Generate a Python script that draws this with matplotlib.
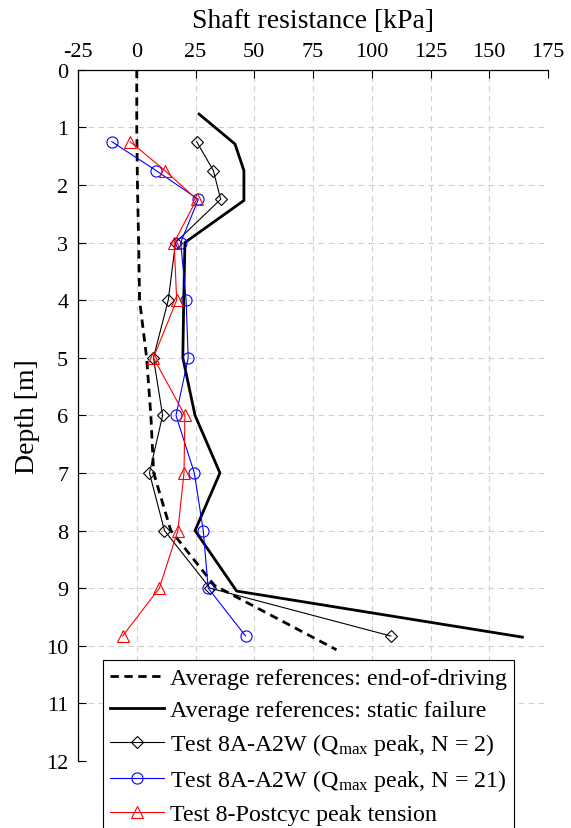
import matplotlib
matplotlib.use('Agg')
import matplotlib.pyplot as plt

plt.rcParams['font.family'] = ['Liberation Serif', 'DejaVu Serif']
plt.rcParams['mathtext.fontset'] = 'custom'
plt.rcParams['mathtext.rm'] = 'Liberation Serif'
plt.rcParams['mathtext.it'] = 'Liberation Serif:italic'
plt.rcParams['axes.unicode_minus'] = False

# Average references: end-of-driving
depth_eod = [0, 1.0, 2.0, 3.0, 4.0, 5.0, 6.0, 7.0, 8.0, 8.95, 10.07]
tau_eod = [0, 0, 0.3, 0.8, 1.2, 4.2, 6.0, 7.2, 14.5, 33.0, 85.0]

# Average references: static failure
depth_sf = [0.77, 1.29, 1.75, 2.27, 3.0, 4.0, 5.0, 6.0, 7.0, 8.0, 9.05, 9.85]
tau_sf = [26.5, 41.8, 45.6, 45.6, 20.5, 20.0, 19.6, 24.8, 35.4, 24.8, 42.5, 164.1]

# Test depths (common to the three tests)
depth_test = [1.25, 1.75, 2.25, 3.0, 4.0, 5.0, 6.0, 7.0, 8.0, 9.0, 9.83]

# Test 8A-A2W (Qmax peak, N = 2)
tau_n2 = [25.5, 32.6, 35.7, 16.5, 13.4, 7.1, 11.0, 5.4, 11.8, 31.2, 108.1]
# Test 8A-A2W (Qmax peak, N = 21)
tau_n21 = [-10.6, 8.2, 26.2, 18.7, 21.0, 21.9, 16.7, 24.5, 28.3, 30.4, 46.3]
# Test 8-Postcyc peak tension
tau_post = [-2.8, 12.0, 25.5, 15.9, 17.0, 7.1, 20.5, 20.1, 17.5, 9.6, -6.0]

x_ticks = [-25, 0, 25, 50, 75, 100, 125, 150, 175]
y_ticks = list(range(0, 13))

fig = plt.figure(figsize=(5.71, 8.29), dpi=100)
ax = fig.add_axes([78 / 571, 1 - 762 / 829, 470 / 571, (762 - 70.7) / 829])

ax.plot(tau_eod, depth_eod, color='black', lw=2, linestyle=(0, (3, 2)),
        label='Average references: end-of-driving')
ax.plot(tau_sf, depth_sf, color='black', lw=2,
        label='Average references: static failure')
ax.plot(tau_n2, depth_test, color='black', lw=0.8, marker='D', markersize=6,
        markerfacecolor='none', markeredgewidth=0.8,
        label='Test 8A-A2W (Q$_{\\mathrm{max}}$ peak, N = 2)')
ax.plot(tau_n21, depth_test, color='blue', lw=0.8, marker='o', markersize=8,
        markerfacecolor='none', markeredgewidth=0.8,
        label='Test 8A-A2W (Q$_{\\mathrm{max}}$ peak, N = 21)')
ax.plot(tau_post, depth_test, color='red', lw=0.8, marker='^', markersize=8,
        markerfacecolor='none', markeredgewidth=0.8,
        label='Test 8-Postcyc peak tension')

ax.set_xlim(-25, 175)
ax.set_ylim(12, 0)
ax.set_xticks(x_ticks)
ax.set_yticks(y_ticks)
ax.xaxis.tick_top()
ax.xaxis.set_label_position('top')
ax.tick_params(axis='both', direction='in', length=6, width=0.8, labelsize=16)
ax.tick_params(axis='x', pad=6)
ax.tick_params(axis='y', pad=7)
ax.set_xlabel('Shaft resistance [kPa]', fontsize=20, labelpad=11)
ax.set_ylabel('Depth [m]', fontsize=20, labelpad=4)

ax.spines['right'].set_visible(False)
ax.spines['bottom'].set_visible(False)
ax.spines['top'].set_linewidth(0.9)
ax.spines['left'].set_linewidth(0.9)
ax.grid(True, color='#cfcfcf', linestyle=(0, (5, 4)), linewidth=0.8)
ax.set_axisbelow(True)

leg = ax.legend(loc='upper left', bbox_to_anchor=(103 / 571, 1 - 661 / 829),
                bbox_transform=fig.transFigure, fontsize=17.3, frameon=True,
                fancybox=False, edgecolor='black', framealpha=1,
                handlelength=2.25, handletextpad=0.25, labelspacing=0.42,
                borderpad=0.3, borderaxespad=0)
leg.get_frame().set_linewidth(0.8)

fig.savefig('out.png', dpi=100)
